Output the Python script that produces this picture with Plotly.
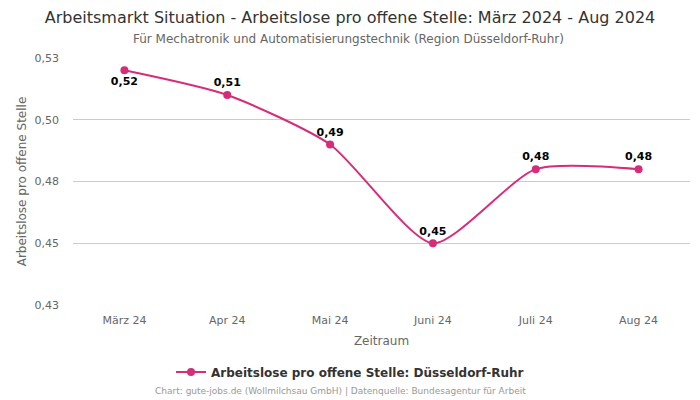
import plotly.graph_objects as go

categories = ["März 24", "Apr 24", "Mai 24", "Juni 24", "Juli 24", "Aug 24"]
values = [0.52, 0.51, 0.49, 0.45, 0.48, 0.48]
labels = ["0,52", "0,51", "0,49", "0,45", "0,48", "0,48"]
label_pos = ["bottom center", "top center", "top center", "top center", "top center", "top center"]
tick_vals = [0.425, 0.45, 0.475, 0.5, 0.525]
tick_text = ["0,43", "0,45", "0,48", "0,50", "0,53"]

color = "#d62d7a"
font = "DejaVu Sans"

# page body has an 8px margin, so the figure is sized to the visible area
W, H = 692, 392
PL, PW = 65, 617  # plot left and width in figure pixels


def px_to_paper(page_x):
    return (page_x - 8 - PL) / PW


fig = go.Figure()
fig.add_trace(go.Scatter(
    x=categories, y=values, mode="lines+markers+text",
    name="Arbeitslose pro offene Stelle: Düsseldorf-Ruhr",
    line=dict(color=color, width=2, shape="spline", smoothing=0.65),
    marker=dict(color=color, size=8),
    text=labels, textposition=label_pos,
    textfont=dict(family=font, size=11, color="#000000", weight="bold"),
    cliponaxis=False,
))

fig.update_layout(
    width=W, height=H,
    margin=dict(l=PL, r=W - PL - PW, t=50, b=95, autoexpand=False),
    paper_bgcolor="white", plot_bgcolor="white",
    font=dict(family=font, color="#666666"),
    title=dict(
        text="Arbeitsmarkt Situation - Arbeitslose pro offene Stelle: März 2024 - Aug 2024",
        x=(350 - 8) / W, xanchor="center", xref="container", yref="container",
        y=1 - 9 / H, yanchor="middle",
        font=dict(family=font, size=16, color="#333333"),
    ),
    showlegend=True,
    legend=dict(
        orientation="h", x=px_to_paper(350), xanchor="center", y=-67 / 247, yanchor="middle",
        font=dict(family=font, size=12, color="#333333", weight="bold"),
    ),
    xaxis=dict(
        type="category", range=[-0.5, 5.5], automargin=False,
        showgrid=False, showline=False, ticks="", ticklabelstandoff=7,
        tickfont=dict(size=11, color="#666666"),
        title=dict(text="Zeitraum", font=dict(size=12, color="#666666"), standoff=10),
    ),
    yaxis=dict(
        range=[0.425, 0.525], tickvals=tick_vals, ticktext=tick_text, automargin=False,
        showgrid=True, gridcolor="#cccccc", gridwidth=1, zeroline=False,
        ticklabelstandoff=13,
        tickfont=dict(size=11, color="#666666"),
        title=dict(text="Arbeitslose pro offene Stelle", font=dict(size=12, color="#666666"), standoff=5),
    ),
)

fig.add_annotation(
    text="Für Mechatronik und Automatisierungstechnik (Region Düsseldorf-Ruhr)",
    xref="paper", yref="paper", x=px_to_paper(348.5), y=1, xanchor="center", yanchor="middle",
    yshift=19, showarrow=False, font=dict(family=font, size=12, color="#666666"),
)
fig.add_annotation(
    text="Chart: gute-jobs.de (Wollmilchsau GmbH) | Datenquelle: Bundesagentur für Arbeit",
    xref="paper", yref="paper", x=px_to_paper(340), y=-86 / 247, xanchor="center", yanchor="middle",
    showarrow=False, font=dict(family=font, size=9, color="#999999"),
)

fig.write_html("out.html")
